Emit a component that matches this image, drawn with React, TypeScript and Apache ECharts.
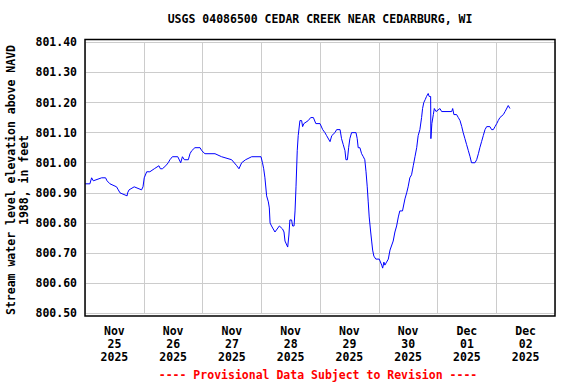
import React, { useEffect, useRef } from "react";
import * as echarts from "echarts";

const titleText = "USGS 04086500 CEDAR CREEK NEAR CEDARBURG, WI";
const yAxisTitle = "Stream water level elevation above NAVD\n1988, in feet";
const footerText = "---- Provisional Data Subject to Revision ----";
const dayLabels = [
  "Nov\n25\n2025",
  "Nov\n26\n2025",
  "Nov\n27\n2025",
  "Nov\n28\n2025",
  "Nov\n29\n2025",
  "Nov\n30\n2025",
  "Dec\n01\n2025",
  "Dec\n02\n2025",
];
// hours since 2025-11-25 00:00
const hours = [
  0, 2.0, 2.7, 3.4, 6.8, 8.4, 9.0, 10.2, 12.9, 13.6, 14.3, 17.2, 17.4, 18.0, 20.1, 23.1, 23.7, 24.2,
  25.2, 26.5, 28.3, 30.2, 30.8, 31.6, 33.0, 34.0, 34.7, 35.7, 37.9, 39.1, 39.8, 40.6, 42.2, 42.9,
  43.6, 44.9, 47.0, 47.7, 49.0, 53.1, 55.8, 59.9, 62.0, 62.9, 64.0, 65.6, 68.1, 71.9, 72.5, 73.0,
  73.5, 74.2, 74.9, 75.3, 75.6, 76.2, 76.9, 77.6, 78.5, 79.4, 80.7, 81.3, 81.7, 82.8, 83.3, 83.7,
  84.4, 84.8, 85.4, 85.8, 86.2, 86.7, 87.1, 87.8, 88.5, 88.9, 89.4, 91.2, 92.2, 93.3, 94.3, 96.0,
  97.1, 98.0, 98.7, 100.1, 100.8, 102.1, 102.8, 104.2, 104.8, 105.5, 106.2, 106.6, 107.2, 107.7,
  108.2, 108.9, 110.7, 111.2, 111.6, 112.3, 113.0, 113.7, 114.3, 114.8, 115.3, 115.7, 116.1, 116.7,
  117.1, 117.5, 118.0, 118.8, 120.2, 121.2, 121.6, 122.1, 122.5, 123.2, 123.9, 124.6, 125.9, 126.6,
  127.3, 128.0, 128.6, 129.7, 130.7, 131.4, 132.0, 132.7, 133.4, 134.1, 134.8, 135.5, 136.1, 136.8,
  137.5, 137.9, 138.4, 139.0, 139.5, 140.2, 140.6, 141.2, 141.3, 141.7, 142.3, 142.7, 143.4, 145.0,
  145.7, 149.8, 150.2, 150.7, 151.8, 152.5, 153.2, 153.9, 154.5, 155.2, 155.9, 156.6, 157.3, 157.9,
  159.3, 160.0, 160.7, 161.3, 162.0, 162.7, 163.4, 164.1, 165.4, 166.1, 166.8, 167.5, 168.2, 168.8,
  169.5, 170.9, 171.6, 172.9, 173.6,
];
const elevation = [
  800.93, 800.93, 800.95, 800.94, 800.95, 800.95, 800.94, 800.93, 800.92, 800.91, 800.90, 800.89, 800.90, 800.91, 800.92, 800.91, 800.92, 800.95,
  800.97, 800.97, 800.98, 800.99, 800.98, 800.98, 800.99, 801.00, 801.01, 801.02, 801.02, 801.00, 801.02, 801.01, 801.01, 801.03,
  801.04, 801.05, 801.05, 801.04, 801.03, 801.03, 801.02, 801.01, 800.99, 800.98, 801.00, 801.01, 801.02, 801.02, 801.00, 800.98,
  800.95, 800.89, 800.87, 800.85, 800.80, 800.79, 800.78, 800.77, 800.78, 800.79, 800.78, 800.77, 800.74, 800.72, 800.76, 800.81,
  800.81, 800.79, 800.79, 800.84, 800.92, 801.04, 801.09, 801.14, 801.14, 801.12, 801.13, 801.14, 801.15, 801.15, 801.13, 801.13,
  801.11, 801.10, 801.09, 801.07, 801.09, 801.10, 801.11, 801.11, 801.08, 801.06, 801.04, 801.01, 801.01, 801.05,
  801.08, 801.10, 801.10, 801.08, 801.05, 801.05, 801.03, 801.02, 801.01, 800.97, 800.92, 800.87, 800.82, 800.77,
  800.74, 800.71, 800.69, 800.68, 800.68, 800.66, 800.65, 800.67, 800.66, 800.67, 800.68, 800.71, 800.74, 800.77,
  800.79, 800.82, 800.84, 800.84, 800.88, 800.90, 800.92, 800.95, 800.96, 800.99, 801.02, 801.05, 801.09, 801.11,
  801.15, 801.18, 801.20, 801.21, 801.22, 801.23, 801.22, 801.22, 801.08, 801.13, 801.16, 801.18, 801.17, 801.18,
  801.17, 801.17, 801.18, 801.16, 801.16, 801.15, 801.14, 801.12, 801.10, 801.08, 801.06, 801.04, 801.02, 801.00,
  801.00, 801.01, 801.03, 801.05, 801.07, 801.09, 801.11, 801.12, 801.12, 801.11, 801.11, 801.12, 801.13, 801.14,
  801.15, 801.16, 801.17, 801.19, 801.18,
];

const FONT = "'DejaVu Sans Mono', monospace";

export default function App() {
  const ref = useRef<HTMLDivElement>(null);
  useEffect(() => {
    if (!ref.current) return;
    const chart = echarts.init(ref.current, null, { renderer: "svg" });
    const data = hours.map((h, i) => [h, elevation[i]]);
    chart.setOption({
      animation: false,
      backgroundColor: "#ffffff",
      grid: { left: 85, right: 21, top: 42.3, bottom: 70.7, containLabel: false },
      xAxis: [
        {
          type: "category",
          data: dayLabels,
          boundaryGap: true,
          axisLine: { show: false },
          axisTick: { show: false },
          splitLine: { show: true, interval: 0, lineStyle: { color: "#cccccc", width: 1 } },
          axisLabel: {
            interval: 0,
            margin: 11,
            lineHeight: 13,
            color: "#000",
            fontFamily: FONT,
            fontWeight: "bold",
            fontSize: 11.5,
          },
        },
        { type: "value", min: 0, max: 192, show: false },
      ],
      yAxis: {
        type: "value",
        min: 800.5,
        max: 801.4,
        interval: 0.1,
        axisLine: { show: false },
        axisTick: { show: false },
        splitLine: { show: true, lineStyle: { color: "#cccccc", width: 1 } },
        axisLabel: {
          margin: 8,
          color: "#000",
          fontFamily: FONT,
          fontWeight: "bold",
          fontSize: 11.5,
          formatter: (v: number) => v.toFixed(2),
        },
      },
      series: [
        {
          type: "line",
          xAxisIndex: 1,
          data,
          showSymbol: false,
          symbol: "none",
          lineStyle: { color: "#0000ff", width: 1 },
        },
      ],
      graphic: [
        {
          type: "rect",
          shape: { x: 85, y: 39.5, width: 470, height: 276.5 },
          style: { fill: "none", stroke: "#000", lineWidth: 1.5 },
          z: 100,
        },
        {
          type: "text",
          x: 320,
          y: 19,
          style: {
            text: titleText,
            fontFamily: FONT,
            fontWeight: "bold",
            fontSize: 11.5,
            fill: "#000",
            textAlign: "center",
            textVerticalAlign: "middle",
          },
        },
        {
          type: "text",
          x: 17.5,
          y: 180,
          rotation: Math.PI / 2,
          style: {
            text: yAxisTitle,
            fontFamily: FONT,
            fontWeight: "bold",
            fontSize: 11.5,
            lineHeight: 13,
            fill: "#000",
            textAlign: "center",
            textVerticalAlign: "middle",
          },
        },
        {
          type: "text",
          x: 318,
          y: 375,
          style: {
            text: footerText,
            fontFamily: FONT,
            fontWeight: "bold",
            fontSize: 11.5,
            fill: "#ff0000",
            textAlign: "center",
            textVerticalAlign: "middle",
          },
        },
      ],
    });
    return () => chart.dispose();
  }, []);
  return (
    <div
      ref={ref}
      style={{ position: "fixed", left: 0, top: 0, width: 576, height: 384 }}
    />
  );
}
